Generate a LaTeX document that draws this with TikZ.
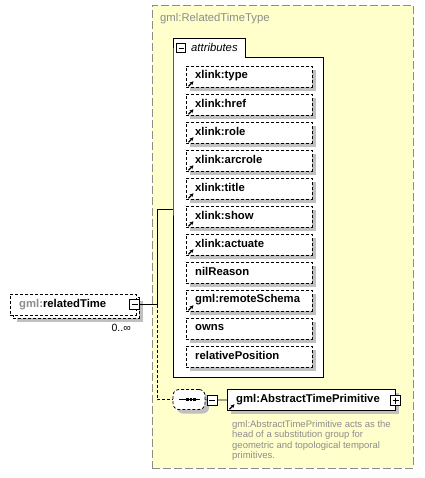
\documentclass[tikz,border=0pt]{standalone}
\usepackage{fontspec}
\setmainfont{Liberation Sans}
\usetikzlibrary{arrows.meta,shadows}
\definecolor{yel}{HTML}{FFFFCC}
\definecolor{bord}{HTML}{8C8C8C}
\definecolor{shad}{HTML}{C0C0C0}
\definecolor{gtext}{HTML}{8C8C8C}
\tikzset{
  fnt/.style={font=\fontsize{11.3}{13}\selectfont},
  bfnt/.style={font=\bfseries\fontsize{11.3}{13}\selectfont},
  shd/.style={drop shadow={shadow xshift=4pt,shadow yshift=-4pt,fill=shad,opacity=1}},
  dsh/.style={dash pattern=on 3pt off 2pt},
  attrbox/.style={draw,dsh,fill=white,shd,anchor=north west,minimum width=126pt,minimum height=21pt,inner sep=0pt,line width=0.8pt},
  lnk/.style={line width=1.2pt,-{Stealth[length=3.8pt,width=3.8pt]}},
  minbox/.style={draw,fill=white,minimum width=10pt,minimum height=10pt,inner sep=0pt,line width=0.8pt,
    path picture={\draw[line width=0.8pt] ([xshift=2pt]path picture bounding box.west) -- ([xshift=-2pt]path picture bounding box.east);}},
  plusbox/.style={minbox,
    path picture={\draw[line width=0.8pt] ([xshift=2pt]path picture bounding box.west) -- ([xshift=-2pt]path picture bounding box.east);
      \draw[line width=0.8pt] ([yshift=-2pt]path picture bounding box.north) -- ([yshift=2pt]path picture bounding box.south);}},
  conn/.style={line width=0.8pt},
}
\begin{document}
\begin{tikzpicture}[x=1pt,y=-1pt]
\useasboundingbox[fill=white] (0,0) rectangle (424,478);
% outer complex type
\node[draw=bord,fill=yel,dash pattern=on 8pt off 3pt,line width=0.8pt,anchor=north west,minimum width=261pt,minimum height=463pt,inner sep=0pt] (type) at (152,5) {};
\node[fnt,text=gtext,anchor=west,inner sep=0pt] (title) at (160,19) {gml:RelatedTimeType};
% attributes container
\draw[fill=white,line width=0.8pt] (173,57) -- (173,38) -- (245,38) -- (245,57) -- (323,57) -- (323,377) -- (173,377) -- cycle;
\node[minbox,minimum width=9pt,minimum height=9pt] (attrmin) at (181,48) {};
\node[fnt,font=\itshape\fontsize{11.3}{13}\selectfont,anchor=west,inner sep=0pt] (attrlbl) at (191,47.5) {attributes};
\coordinate (attrw) at (173,209);
\foreach \t/\l [count=\i from 0] in {xlink:type/1,xlink:href/1,xlink:role/1,xlink:arcrole/1,xlink:title/1,xlink:show/1,xlink:actuate/1,nilReason/0,gml:remoteSchema/1,owns/0,relativePosition/0}{
  \node[attrbox] (a\i) at (186,{66+28*\i}) {};
  \node[bfnt,anchor=west,inner sep=0pt] (t\i) at ([xshift=9pt,yshift=1pt]a\i.west) {\t};
  \ifnum\l=1 \draw[lnk] ([shift={(2.5pt,1.5pt)}]a\i.south west) -- ++(5pt,5pt);\fi
}
% left element
\node[draw,dsh,fill=white,shd,anchor=north west,minimum width=126pt,minimum height=21pt,inner sep=0pt,line width=0.8pt] (relb) at (13,297) {};
\node[draw,dsh,fill=white,anchor=north west,minimum width=126pt,minimum height=21pt,inner sep=0pt,line width=0.8pt] (rel) at (10,294) {};
\node[bfnt,anchor=west,inner sep=0pt] (rellbl) at (19,304.5) {\textcolor{gtext}{gml:}relatedTime};
\node[minbox] (relmin) at (134.5,304.5) {};
\node[font=\fontsize{10.5}{12}\selectfont,anchor=east,inner sep=0pt] (mult) at (131,328) {0..∞};
% connectors
\coordinate (j1) at (157,304.5);
\draw[conn] (relmin.east) -- (j1);
\draw[conn] (j1) |- (attrw);
% sequence
\node[draw,dsh,fill=white,shd,rounded corners=6pt,minimum width=32pt,minimum height=20pt,inner sep=0pt,line width=0.8pt] (seq) at (189,399.5) {};
\draw[conn,dash pattern=on 3pt off 2pt] (j1) |- (seq.west);
\draw[line width=1pt] (179,399.5) -- (200,399.5);
\foreach \xx in {187.5,191,194.5}{\fill (\xx-1.4,398.1) rectangle (\xx+1.4,400.9);}
\node[minbox] (seqmin) at (212,400) {};
\draw[conn] (seq.east) -- (seqmin.west);
% element
\node[draw,fill=white,shd,anchor=north west,minimum width=168pt,minimum height=21pt,inner sep=0pt,line width=0.8pt] (el) at (227,389) {};
\draw[conn] (seqmin.east) -- (el.west);
\node[bfnt,anchor=west,inner sep=0pt] (ellbl) at (236,400) {gml:AbstractTimePrimitive};
\draw[lnk] ([shift={(2.5pt,1.5pt)}]el.south west) -- ++(5pt,5pt);
\node[plusbox] (elplus) at (395.5,400.5) {};
% description
\tikzset{dsc/.style={text=gtext,font=\fontsize{9.5}{11}\selectfont,anchor=base west,inner sep=0pt}}
\node[dsc] (d1) at (232,427) {gml:AbstractTimePrimitive acts as the};
\node[dsc] (d2) at (232,437.6) {head of a substitution group for};
\node[dsc] (d3) at (232,448.2) {geometric and topological temporal};
\node[dsc] (d4) at (232,458.8) {primitives.};
\end{tikzpicture}
\end{document}
